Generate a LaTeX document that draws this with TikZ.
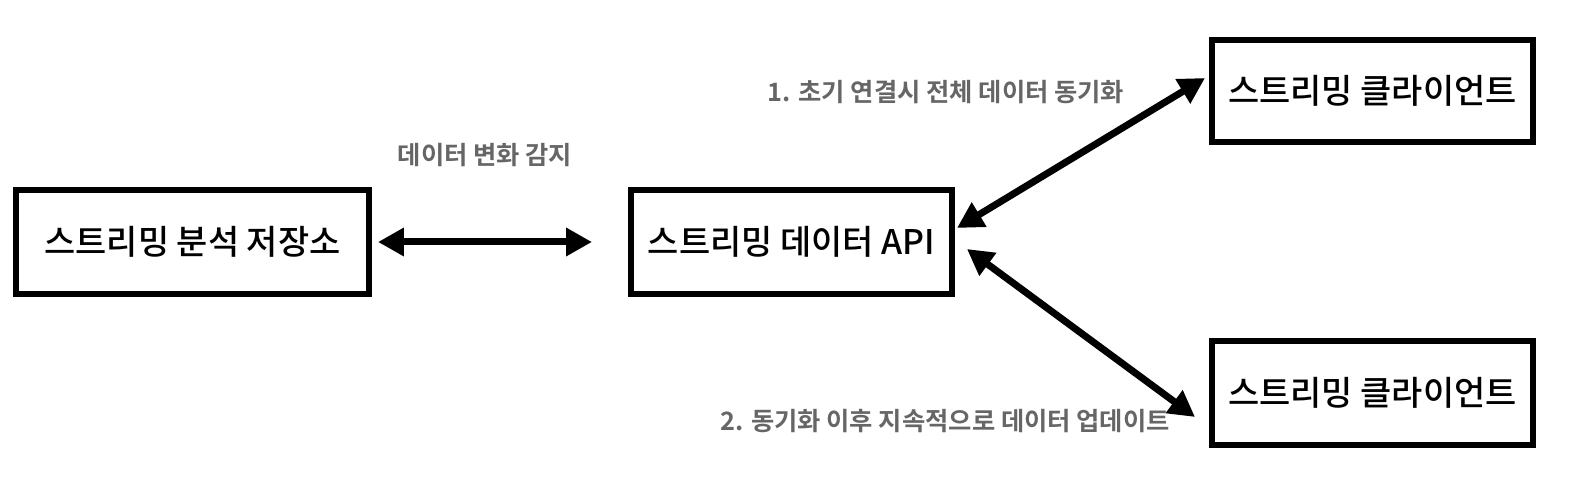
\documentclass[tikz,border=0pt]{standalone}
\usepackage{fontspec}
\usepackage{xcolor}
\newfontfamily\krfont{Noto Sans CJK KR Medium}
\newfontfamily\krbold{Noto Sans CJK KR Bold}
\definecolor{notegray}{HTML}{666666}
\usetikzlibrary{arrows.meta,calc}

\begin{document}
\begin{tikzpicture}[
    x=0.02cm, y=-0.02cm,
    compbox/.style={draw=black, line width=0.12cm, fill=white, minimum width=6.42cm, minimum height=2.08cm, inner sep=0pt, font=\krfont\fontsize{19.3pt}{23pt}\selectfont},
    sync/.style={<->, line width=0.14cm, >={Triangle[length=0.52cm, width=0.54cm]}},
    note/.style={text=notegray, inner sep=0pt, font=\krbold\fontsize{14.4pt}{17pt}\selectfont}
]
\useasboundingbox (0,0) rectangle (1596,502);

% Storage and API
\node[compbox, minimum width=7.06cm] (store) at (192.5, 242) {스트리밍 분석 저장소};
\node[compbox] (api) at (791.5, 242) {스트리밍 데이터 API};

% Clients
\node[compbox, minimum height=2.04cm] (client1) at (1372.5, 91) {스트리밍 클라이언트};
\node[compbox] (client2) at (1372.5, 393) {스트리밍 클라이언트};

% Connections
\draw[sync] ($(store.east)+(6,0)$) -- ($(api.west)+(-36,0)$);
\draw[sync] ($(api.east)+(2,-14)$) -- ($(client1.west)+(-4,-13)$);
\draw[sync] ($(api.east)+(12,7)$) -- ($(client2.west)+(-14,24)$);

% Labels
\node[note] (change) at (485, 155) {데이터 변화 감지};
\node[note] (initsync) at (946, 92) {1. 초기 연결시 전체 데이터 동기화};
\node[note] (update) at (945, 421) {2. 동기화 이후 지속적으로 데이터 업데이트};

\end{tikzpicture}
\end{document}
